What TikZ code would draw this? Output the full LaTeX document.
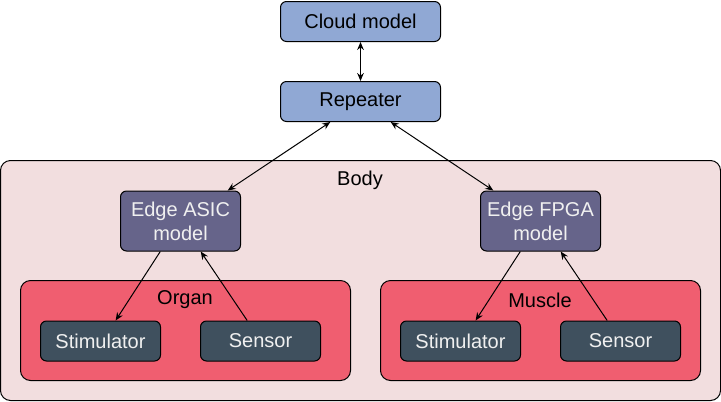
\documentclass[tikz,border=0pt]{standalone}
\usepackage{fontspec}
\setmainfont{Liberation Sans}
\usetikzlibrary{arrows.meta,calc}

\definecolor{cloudfill}{RGB}{144,168,212}
\definecolor{edgefill}{RGB}{102,100,138}
\definecolor{bodyfill}{RGB}{242,222,223}
\definecolor{organfill}{RGB}{240,94,112}
\definecolor{partfill}{RGB}{63,80,94}

\tikzset{every picture/.style={line width=0.75pt}}
\tikzset{
  box/.style={draw=black, rounded corners=4.5pt, inner sep=0pt, font=\fontsize{15}{17}\selectfont},
  cloudbox/.style={box, fill=cloudfill, minimum width=120pt, minimum height=30pt},
  edgebox/.style={box, fill=edgefill, text=white!94!black, minimum width=90pt, minimum height=45pt, align=center},
  partbox/.style={box, fill=partfill, text=white!94!black, minimum width=90pt, minimum height=30pt},
  link/.style={-{Stealth[length=6pt,width=5pt]}},
  duplex/.style={{Stealth[length=6pt,width=5pt]}-{Stealth[length=6pt,width=5pt]}},
  lbl/.style={font=\fontsize{15}{17}\selectfont, inner sep=0.75pt}
}

\begin{document}
\begin{tikzpicture}[x=0.75pt,y=0.75pt,yscale=-1,xscale=1]
\useasboundingbox (0,0) rectangle (721,401);

%Shape: Containers
\draw [fill=bodyfill, rounded corners=7.5pt] (0.5,160.5) rectangle (720.5,400.5);
\draw [fill=organfill, rounded corners=7.5pt] (20.5,280.5) rectangle (350.5,380.5);
\draw [fill=organfill, rounded corners=7.5pt] (380.5,280.5) rectangle (700.5,380.5);

% Text Node
\node [lbl] (body) at (360,180) {Body};
\node [lbl] (organ) at (185,300) {Organ};
\node [lbl] (muscle) at (540,300) {Muscle};

%Shape: Boxes
\node [cloudbox] (cloud) at (360.5,21.5) {Cloud model};
\node [cloudbox] (rep) at (360.5,101.5) {Repeater};
\node [edgebox] (asic) at (180.5,221) {Edge ASIC\\[1pt]model};
\node [edgebox] (fpga) at (540.5,221) {Edge FPGA\\[1pt]model};
\node [partbox] (stimL) at (100.5,341) {Stimulator};
\node [partbox] (sensL) at (260.5,341) {Sensor};
\node [partbox] (stimR) at (460.5,341) {Stimulator};
\node [partbox] (sensR) at (620.5,341) {Sensor};

%Connectors
\draw [duplex] (cloud.south) -- (rep.north);
\draw [duplex] ($(rep.south west)!0.3125!(rep.south east)$) -- ($(asic.north west)!0.89!(asic.north east)$);
\draw [duplex] ($(rep.south west)!0.6875!(rep.south east)$) -- ($(fpga.north west)!0.11!(fpga.north east)$);
\draw [link] ($(asic.south west)!0.333!(asic.south east)$) -- ($(stimL.north west)!0.625!(stimL.north east)$);
\draw [link] ($(sensL.north west)!0.39!(sensL.north east)$) -- ($(asic.south west)!0.667!(asic.south east)$);
\draw [link] ($(fpga.south west)!0.333!(fpga.south east)$) -- ($(stimR.north west)!0.625!(stimR.north east)$);
\draw [link] ($(sensR.north west)!0.39!(sensR.north east)$) -- ($(fpga.south west)!0.667!(fpga.south east)$);

\end{tikzpicture}
\end{document}
